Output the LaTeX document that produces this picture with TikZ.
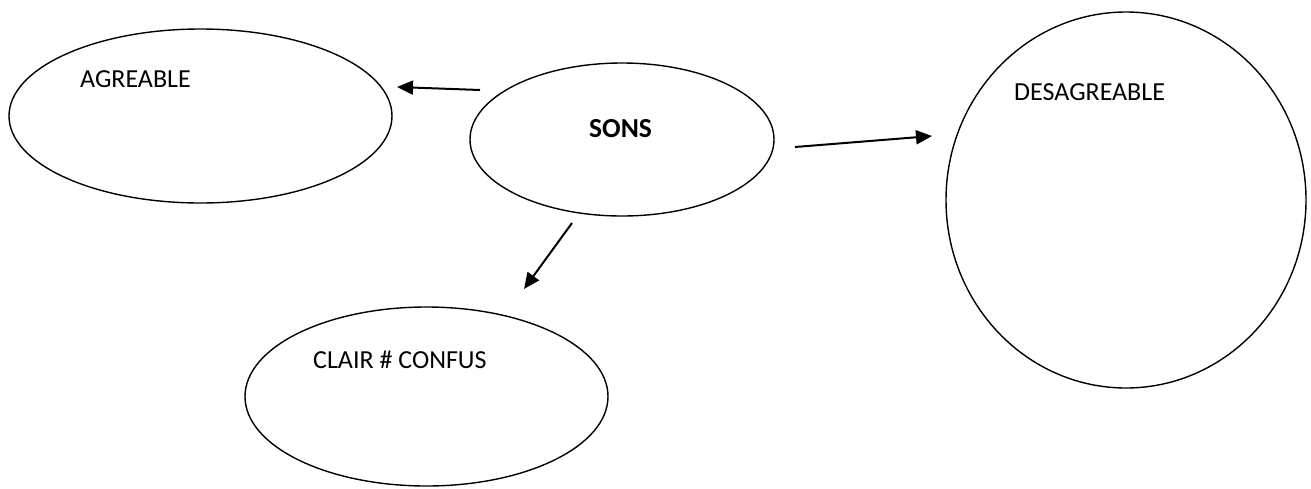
\documentclass[tikz,border=0pt]{standalone}
\usepackage{fontspec}
\setmainfont{Carlito}
\usetikzlibrary{shapes.geometric,arrows.meta}
\begin{document}
\begin{tikzpicture}[x=1pt,y=-1pt,
  bubble/.style={draw=black,line width=1.4pt,ellipse,inner sep=0pt,fill=none},
  lbl/.style={inner sep=0pt,anchor=base west,font=\fontsize{26}{30}\selectfont},
  arr/.style={line width=2pt,-{Triangle[length=16pt,width=14pt]}}]
\useasboundingbox (0,0) rectangle (1311,488);
\node[bubble,minimum width=383pt,minimum height=174pt] (agr) at (200.5,116) {};
\node[bubble,minimum width=304pt,minimum height=153pt] (sons) at (622,139.5) {};
\node[bubble,minimum width=360pt,minimum height=376pt] (des) at (1126,200) {};
\node[bubble,minimum width=363pt,minimum height=179pt] (clair) at (426.5,396.5) {};
\node[lbl] (agrT) at (80,87) {AGREABLE};
\node[lbl,font=\fontsize{27.5}{31}\selectfont\bfseries] (sonsT) at (589,137) {SONS};
\node[lbl] (desT) at (1014,100) {DESAGREABLE};
\node[lbl] (clairT) at (313,368) {CLAIR \# CONFUS};
\coordinate (a1s) at (480,90);
\coordinate (a1e) at (397,87);
\coordinate (a2s) at (795,147);
\coordinate (a2e) at (932,136);
\coordinate (a3s) at (572,223);
\coordinate (a3e) at (524,289);
\draw[arr] (a1s) -- (a1e);
\draw[arr] (a2s) -- (a2e);
\draw[arr] (a3s) -- (a3e);
\end{tikzpicture}
\end{document}
